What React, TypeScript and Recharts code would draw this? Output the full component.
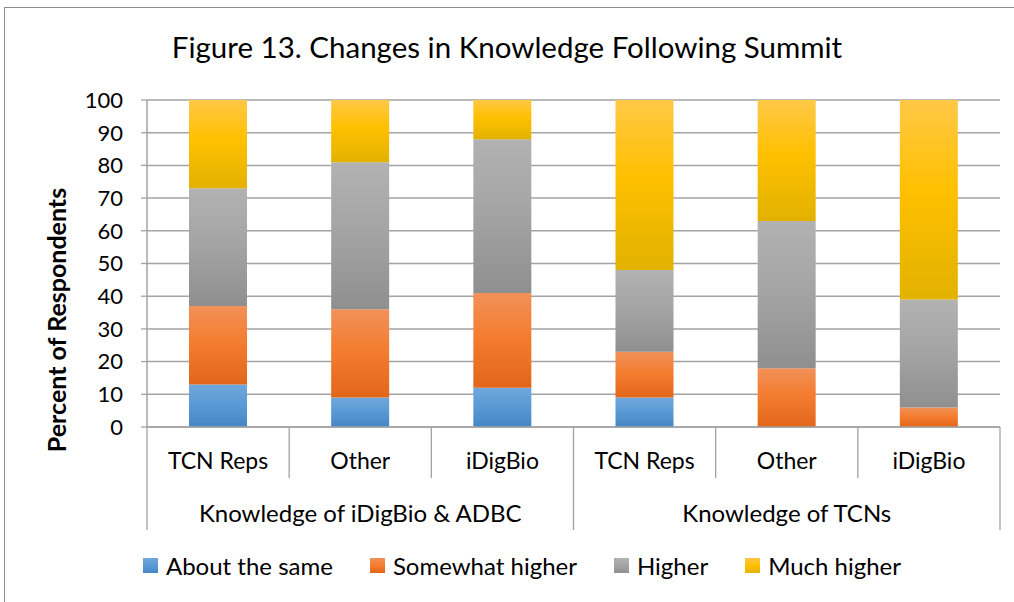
import { BarChart, Bar, XAxis, YAxis, CartesianGrid } from 'recharts';

// categories along the x axis (two groups of three)
const categories = ['TCN Reps', 'Other', 'iDigBio', 'TCN Reps', 'Other', 'iDigBio'];
const groups = [
    'Knowledge of iDigBio & ADBC',
    'Knowledge of iDigBio & ADBC',
    'Knowledge of iDigBio & ADBC',
    'Knowledge of TCNs',
    'Knowledge of TCNs',
    'Knowledge of TCNs'
];

// percent of respondents per answer
const aboutSame = [13, 9, 12, 9, 0, 0];
const somewhatHigher = [24, 27, 29, 14, 18, 6];
const higher = [36, 45, 47, 25, 45, 33];
const muchHigher = [27, 19, 12, 52, 37, 61];

const yTicks = [0, 10, 20, 30, 40, 50, 60, 70, 80, 90, 100];

const series = [
    { key: 'aboutSame', name: 'About the same', values: aboutSame, stops: ['#70a7dd', '#5b9bd5', '#4486c6'] },
    { key: 'somewhatHigher', name: 'Somewhat higher', values: somewhatHigher, stops: ['#f19159', '#f47d30', '#e2661a'] },
    { key: 'higher', name: 'Higher', values: higher, stops: ['#b2b2b2', '#a5a5a5', '#8f8f8f'] },
    { key: 'muchHigher', name: 'Much higher', values: muchHigher, stops: ['#ffc846', '#ffc000', '#e2b200'] }
];

const data = categories.map((c, i) => {
    const row: Record<string, any> = { idx: String(i), category: c, group: groups[i] };
    series.forEach((s) => {
        row[s.key] = s.values[i];
    });
    return row;
});

const W = 1014;
const H = 602;
const Y_AXIS_W = 147;
const X_AXIS_H = 175;
const margin = { top: 100, right: 14, left: 0, bottom: 0 };
const band = (W - Y_AXIS_W - margin.right) / categories.length;
const FONT = 'Lato, "Open Sans", sans-serif';
const LINE = '#a3a3a3';

function CategoryTick(props: any) {
    const { x, y, payload } = props;
    const i = payload.index;
    const half = band / 2;
    const inGroup = i % 3;
    return (
        <g>
            <text x={x} y={y + 42} textAnchor="middle" fontSize={23} fill="#000" fontFamily={FONT}>
                {categories[i]}
            </text>
            {inGroup !== 2 && (
                <line x1={x + half} x2={x + half} y1={y} y2={y + 51} stroke={LINE} strokeWidth={1.3} />
            )}
            {inGroup === 0 && (
                <line x1={x - half} x2={x - half} y1={y} y2={y + 103} stroke={LINE} strokeWidth={1.3} />
            )}
            {i === categories.length - 1 && (
                <line x1={x + half} x2={x + half} y1={y} y2={y + 103} stroke={LINE} strokeWidth={1.3} />
            )}
            {inGroup === 1 && (
                <text x={x} y={y + 95} textAnchor="middle" fontSize={24} fill="#000" fontFamily={FONT}>
                    {groups[i]}
                </text>
            )}
        </g>
    );
}

function YLabel() {
    return (
        <text
            x={0}
            y={0}
            transform="translate(66, 320) rotate(-90)"
            textAnchor="middle"
            fontSize={25}
            fontWeight="bold"
            fill="#000"
            fontFamily={FONT}
        >
            Percent of Respondents
        </text>
    );
}

function ChartLegend() {
    return (
        <div
            style={{
                position: 'absolute',
                top: 551,
                left: 0,
                width: W,
                boxSizing: 'border-box',
                paddingLeft: 30,
                display: 'flex',
                justifyContent: 'center',
                gap: 37,
                fontFamily: FONT,
                fontSize: 24,
                color: '#000'
            }}
        >
            {series.map((s) => (
                <div key={s.key} style={{ display: 'flex', alignItems: 'center' }}>
                    <span
                        style={{
                            display: 'inline-block',
                            width: 15,
                            height: 15,
                            marginRight: 8,
                            background: `linear-gradient(${s.stops[0]}, ${s.stops[1]}, ${s.stops[2]})`
                        }}
                    />
                    <span>{s.name}</span>
                </div>
            ))}
        </div>
    );
}

export default function App() {
    return (
        <div style={{ position: 'absolute', left: 0, top: 0, width: W, height: H, background: '#fff', overflow: 'hidden' }}>
            <div style={{ position: 'absolute', left: 4, top: 7, width: W, height: H, borderLeft: '1px solid #8c8c8c', borderTop: '1px solid #8c8c8c' }} />
            <div
                style={{
                    position: 'absolute',
                    top: 29,
                    left: 0,
                    width: W,
                    textAlign: 'center',
                    fontFamily: FONT,
                    fontSize: 29.5,
                    color: '#000'
                }}
            >
                Figure 13. Changes in Knowledge Following Summit
            </div>
            <BarChart width={W} height={H} data={data} margin={margin} barSize={58}>
                <defs>
                    {series.map((s) => (
                        <linearGradient key={s.key} id={`grad-${s.key}`} x1="0" y1="0" x2="0" y2="1">
                            <stop offset="0%" stopColor={s.stops[0]} />
                            <stop offset="45%" stopColor={s.stops[1]} />
                            <stop offset="100%" stopColor={s.stops[2]} />
                        </linearGradient>
                    ))}
                </defs>
                <CartesianGrid vertical={false} stroke={LINE} strokeWidth={1.5} />
                <XAxis
                    dataKey="idx"
                    height={X_AXIS_H}
                    tick={<CategoryTick />}
                    tickLine={false}
                    tickSize={0}
                    tickMargin={0}
                    interval={0}
                    axisLine={{ stroke: LINE, strokeWidth: 1.5 }}
                />
                <YAxis
                    width={Y_AXIS_W}
                    domain={[0, 100]}
                    ticks={yTicks}
                    interval={0}
                    tick={{ fontSize: 22, fill: '#000', fontFamily: FONT }}
                    tickSize={6}
                    tickMargin={18}
                    tickLine={{ stroke: LINE, strokeWidth: 1.3 }}
                    axisLine={{ stroke: LINE, strokeWidth: 1.5 }}
                    label={<YLabel />}
                />
                {series.map((s) => (
                    <Bar
                        key={s.key}
                        dataKey={s.key}
                        name={s.name}
                        stackId="a"
                        fill={`url(#grad-${s.key})`}
                        isAnimationActive={false}
                    />
                ))}
            </BarChart>
            <ChartLegend />
        </div>
    );
}
